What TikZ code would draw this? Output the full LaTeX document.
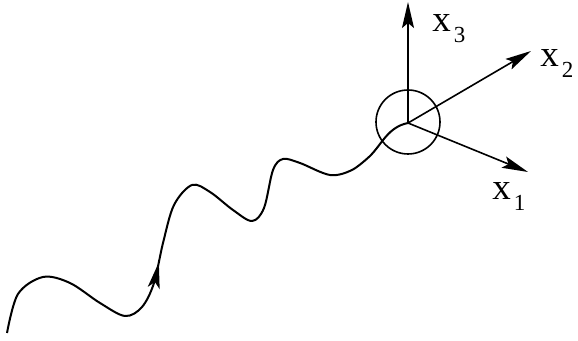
\documentclass[tikz,border=0pt]{standalone}
\usepackage{fontspec}
\setmainfont{Liberation Serif}
\usetikzlibrary{arrows.meta,decorations.markings}
\newcommand{\axlab}[1]{x\hspace{1.5pt}\raisebox{-5.5pt}{\fontsize{11.5}{12}\selectfont #1}}
\tikzset{
  axis/.style={line width=0.8pt,-{Stealth[length=13pt,width=6pt,inset=2.5pt]}},
  path line/.style={line width=1pt,line join=round,
    postaction={decorate},
    decoration={markings,mark=at position 0.38 with {\arrow{Stealth[length=13pt,width=6pt,inset=3pt]}}}},
}
\begin{document}
\begin{tikzpicture}[x=0.5pt,y=-0.5pt,every node/.style={font=\fontsize{18.5}{20}\selectfont,inner sep=0pt}]
\useasboundingbox (0,0) rectangle (578,341);
\coordinate (O) at (408,123);
\coordinate (X1) at (528,172);
\coordinate (X2) at (531,51);
\coordinate (X3) at (408,2);
\draw[line width=0.8pt] (408,122) circle[radius=32];
\draw[axis] (O) -- (X1);
\draw[axis] (O) -- (X2);
\draw[axis] (O) -- (X3);
\draw[path line] plot[smooth,tension=0.55] coordinates {
  (7,333) (18,294) (43,277) (70,283) (100,303) (125,316)
  (142,307) (154,283) (163,243) (174,205) (192,185) (210,192) (233,210)
  (252,221) (264,208) (273,170) (283,159) (300,163) (330,175) (352,170)
  (370,156)} .. controls (382,144) and (388,127) .. (O);
\node[anchor=base west] (L3) at (432,32) {\axlab{3}};
\node[anchor=base west] (L2) at (540,67) {\axlab{2}};
\node[anchor=base west] (L1) at (492,200) {\axlab{1}};
\end{tikzpicture}
\end{document}
